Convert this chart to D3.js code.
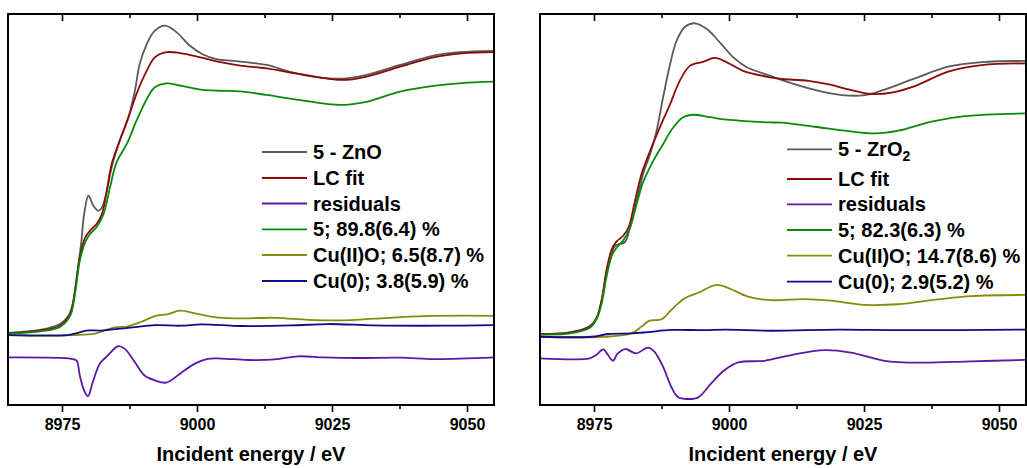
<!DOCTYPE html>
<html>
<head>
<meta charset="utf-8">
<script src="https://cdn.jsdelivr.net/npm/d3@7"></script>
<style>
  html, body { margin: 0; padding: 0; background: #fff; }
  svg { display: block; }
  text { font-family: "Liberation Sans", Arial, sans-serif; font-weight: bold; fill: #000; }
</style>
</head>
<body>
<svg id="chart" width="1027" height="468"></svg>
<script>
// Cu K-edge XANES linear-combination fits, energies in eV, normalised absorption.
const energyTicks = [8975, 9000, 9025, 9050];
const energyMinorTicks = [8987.5, 9012.5, 9037.5];
const energyDomain = [8965, 9055];
const axisTitle = "Incident energy / eV";

// ---- 5 - ZnO ----
const znoMeasured = [[8965,.008],[8970.9,.018],[8974.6,.039],[8976.2,.068],[8977.1,.121],[8977.8,.215],[8978.6,.333],[8979.1,.428],[8979.9,.492],[8980.8,.457],[8981.7,.439],[8982.4,.451],[8983.3,.510],[8984.2,.593],[8985.7,.687],[8987.3,.769],[8988.5,.863],[8989.4,.958],[8990.7,1.028],[8992.2,1.075],[8994.1,1.093],[8996.2,1.070],[8998.7,1.022],[9001.2,.990],[9003.6,.975],[9008,.966],[9012.9,.954],[9017.2,.930],[9022.2,.911],[9027.1,.906],[9031.4,.919],[9037.6,.954],[9043.8,.987],[9048.7,.999],[9055,1.004]];
const znoFit = [[8965,.007],[8970.9,.016],[8974.6,.033],[8976.5,.074],[8977.4,.157],[8978.3,.275],[8979.3,.345],[8980.2,.369],[8981.4,.392],[8982.4,.428],[8983.3,.510],[8984.2,.604],[8985.7,.687],[8987.3,.769],[8988.8,.852],[8990.7,.934],[8992.2,.981],[8994.4,.999],[8996.9,.996],[9000.6,.981],[9004.3,.964],[9008,.952],[9012.9,.942],[9019.1,.922],[9027.1,.901],[9031.4,.913],[9037.6,.948],[9043.8,.981],[9049,.995],[9055,.999]];
const znoResiduals = [[8965,0],[8976.7,-.005],[8977.7,-.011],[8978.3,-.064],[8979.1,-.117],[8979.8,-.137],[8980.7,-.087],[8982,-.022],[8983.5,.007],[8985.4,.040],[8986.6,.031],[8988.5,-.017],[8990.3,-.064],[8992.2,-.081],[8994.3,-.089],[8997.1,-.054],[8999.6,-.022],[9002,-.005],[9004.5,-.004],[9009.4,-.009],[9014.4,-.007],[9018.7,.004],[9023.6,0],[9029.8,-.002],[9037.8,-.001],[9044,-.006],[9055,0]];
const znoPart5 = [[8965,.005],[8970.9,.013],[8974.6,.029],[8976.5,.068],[8977.4,.145],[8978.3,.263],[8979.3,.328],[8980.2,.357],[8981.4,.381],[8982.7,.428],[8983.9,.522],[8985.1,.610],[8987,.675],[8988.8,.757],[8990.7,.834],[8992.2,.875],[8994.4,.889],[8996.9,.881],[9000.6,.867],[9004.3,.863],[9008,.861],[9012.9,.848],[9019.1,.830],[9026.5,.813],[9031.4,.824],[9037.6,.860],[9043.8,.880],[9049,.890],[9055,.895]];
const znoPartCuO = [[8965,0],[8977.3,0],[8981.1,.005],[8983.5,.020],[8984.8,.027],[8987.2,.031],[8989.7,.047],[8992.2,.067],[8994.6,.074],[8996.8,.086],[8999.6,.077],[9003.3,.063],[9007,.059],[9014.4,.061],[9020.6,.054],[9026.7,.052],[9032.9,.058],[9042.2,.067],[9055,.068]];
const znoPartCu = [[8965,0],[8976.1,0],[8978,.008],[8979.5,.016],[8982.3,.016],[8985.4,.022],[8988.5,.028],[8992.2,.035],[8997.1,.033],[9000.8,.038],[9008.2,.032],[9017.5,.034],[9024.3,.039],[9032.9,.034],[9045.2,.033],[9055,.035]];
const znoLabels = ["5 - ZnO", "LC fit", "residuals", "5; 89.8(6.4) %", "Cu(II)O; 6.5(8.7) %", "Cu(0); 3.8(5.9) %"];

// ---- 5 - ZrO2 ----
const zroMeasured = [[8965,.010],[8970.6,.016],[8974.3,.040],[8975.5,.071],[8976.4,.132],[8977.3,.230],[8978.3,.303],[8978.9,.333],[8979.8,.340],[8980.7,.346],[8981.7,.401],[8982.9,.498],[8984.1,.596],[8985.4,.669],[8986.6,.755],[8987.8,.877],[8989.1,.999],[8990.3,1.084],[8991.9,1.136],[8993.7,1.148],[8995.9,1.127],[8998.3,1.078],[9000.8,1.023],[9003.3,.987],[9007.6,.956],[9009.8,.940],[9015.9,.904],[9020.9,.885],[9025.2,.885],[9028.2,.901],[9034.4,.946],[9040.6,.989],[9046.8,1.006],[9055,1.010]];
const zroFit = [[8965,.010],[8970.6,.016],[8974.3,.037],[8975.5,.068],[8976.4,.132],[8977.3,.242],[8978.3,.321],[8979.2,.349],[8980.4,.370],[8981.4,.401],[8982.6,.498],[8983.8,.596],[8985.4,.681],[8987.2,.767],[8989.1,.852],[8990.9,.938],[8992.8,.993],[8995.2,1.007],[8997.4,1.021],[8999.6,1.005],[9002.6,.974],[9007.6,.950],[9009.8,.944],[9014.7,.937],[9019,.922],[9022.1,.906],[9026.4,.889],[9030.1,.894],[9034.4,.918],[9040.6,.971],[9046.8,.995],[9055,1.001]];
const zroResiduals = [[8965,0],[8974.2,0],[8975.4,.012],[8976.7,.033],[8977.6,.012],[8978.5,-.009],[8979.4,.018],[8980.8,.034],[8982.8,.018],[8985,.039],[8986.2,.024],[8987.8,-.031],[8989.3,-.104],[8990.6,-.143],[8992.4,-.149],[8994.3,-.143],[8996.7,-.092],[8999.2,-.043],[9001.7,-.015],[9006.6,-.009],[9011.5,.012],[9017.7,.030],[9022.6,.021],[9028.8,-.009],[9035.6,-.016],[9044.9,-.011],[9055,-.006]];
const zroPart5 = [[8965,.008],[8970.6,.012],[8974.3,.034],[8975.5,.065],[8976.4,.120],[8977.3,.218],[8978.3,.297],[8979.2,.327],[8980.4,.352],[8981.7,.401],[8982.9,.486],[8984.1,.566],[8986,.645],[8987.8,.706],[8989.7,.767],[8991.5,.804],[8993.4,.813],[8996.5,.804],[9000.2,.794],[9007.6,.785],[9009.8,.784],[9015.9,.769],[9022.1,.753],[9027,.745],[9031.4,.755],[9037.5,.788],[9043.7,.808],[9055,.818]];
const zroPartCuO = [[8965,0],[8977,0],[8981.9,.012],[8983.8,.037],[8985.3,.059],[8987.5,.064],[8989.3,.098],[8991.8,.141],[8994.3,.161],[8997.7,.190],[9000.4,.174],[9003.5,.147],[9007.8,.134],[9014,.138],[9018.9,.132],[9025.1,.117],[9031.3,.119],[9038.7,.137],[9044.9,.149],[9055,.153]];
const zroPartCu = [[8965,0],[8974.5,0],[8977.6,.010],[8981.9,.012],[8985,.017],[8989.3,.025],[8995.5,.024],[8999.2,.026],[9007.8,.022],[9020.2,.026],[9032.5,.024],[9055,.026]];
const zroLabels = ["5 - ZrO", "LC fit", "residuals", "5; 82.3(6.3) %", "Cu(II)O; 14.7(8.6) %", "Cu(0); 2.9(5.2) %"];

// Series styling shared by both panels (legend order)
const seriesColors = ["#5a5a5a", "#8b0a0a", "#5c17a6", "#0a8a0a", "#8a8a0a", "#0c0c8c"];
const residualOffset = -0.079;

const panels = [
  { left: 8, right: 494, yDomain: [-0.247, 1.134],
    series: [znoMeasured, znoFit, znoResiduals, znoPart5, znoPartCuO, znoPartCu],
    labels: znoLabels, subscript: null,
    legend: { x0: 262, x1: 307, tx: 313, rows: [152, 178, 203.5, 229.3, 255, 281] } },
  { left: 540, right: 1026, yDomain: [-0.250, 1.182],
    series: [zroMeasured, zroFit, zroResiduals, zroPart5, zroPartCuO, zroPartCu],
    labels: zroLabels, subscript: "2",
    legend: { x0: 787, x1: 832, tx: 838, rows: [149.3, 179, 204.3, 230, 255.7, 281.7] } }
];

const plotTop = 14, plotBottom = 405;
const svg = d3.select("#chart");

panels.forEach((p, pi) => {
  const x = d3.scaleLinear().domain(energyDomain).range([p.left, p.right]);
  const y = d3.scaleLinear().domain(p.yDomain).range([plotBottom, plotTop]);

  const clipId = "clip" + pi;
  svg.append("clipPath").attr("id", clipId)
    .append("rect").attr("x", p.left).attr("y", plotTop)
    .attr("width", p.right - p.left).attr("height", plotBottom - plotTop);

  const line = d3.line()
    .x(d => x(d[0]))
    .y(d => y(d[1]))
    .curve(d3.curveCatmullRom.alpha(0.5));

  const g = svg.append("g").attr("clip-path", `url(#${clipId})`);
  p.series.forEach((s, i) => {
    const pts = i === 2 ? s.map(d => [d[0], d[1] + residualOffset]) : s;
    g.append("path")
      .attr("d", line(pts))
      .attr("fill", "none")
      .attr("stroke", seriesColors[i])
      .attr("stroke-width", 1.8)
      .attr("stroke-linejoin", "round");
  });

  // Bottom axis with outward ticks
  const axB = svg.append("g").attr("transform", `translate(0,${plotBottom})`);
  axB.call(d3.axisBottom(x).tickValues(energyTicks).tickSize(7).tickPadding(7).tickFormat(d3.format("d")));
  axB.append("g").call(d3.axisBottom(x).tickValues(energyMinorTicks).tickSize(4).tickFormat(""));
  // Top axis with inward ticks
  const axT = svg.append("g").attr("transform", `translate(0,${plotTop})`);
  axT.call(d3.axisBottom(x).tickValues(energyTicks).tickSize(7).tickFormat(""));
  axT.append("g").call(d3.axisBottom(x).tickValues(energyMinorTicks).tickSize(4).tickFormat(""));

  svg.selectAll(".domain").remove();
  svg.selectAll(".tick line").attr("stroke", "#000").attr("stroke-width", 1.6);
  axB.selectAll(".tick text").attr("font-size", "16px").attr("fill", "#000")
    .attr("font-family", "Liberation Sans, Arial, sans-serif").attr("font-weight", "bold");

  // Frame
  svg.append("rect")
    .attr("x", p.left).attr("y", plotTop)
    .attr("width", p.right - p.left).attr("height", plotBottom - plotTop)
    .attr("fill", "none").attr("stroke", "#000").attr("stroke-width", 2);

  // Axis title
  svg.append("text")
    .attr("x", (p.left + p.right) / 2).attr("y", 461)
    .attr("text-anchor", "middle").attr("font-size", "20px")
    .text(axisTitle);

  // Legend
  const lg = svg.append("g");
  p.labels.forEach((lab, i) => {
    const yy = p.legend.rows[i];
    lg.append("line")
      .attr("x1", p.legend.x0).attr("x2", p.legend.x1)
      .attr("y1", yy).attr("y2", yy)
      .attr("stroke", seriesColors[i]).attr("stroke-width", 1.8);
    const t = lg.append("text")
      .attr("x", p.legend.tx).attr("y", yy + 7)
      .attr("font-size", "20px");
    t.append("tspan").text(lab);
    if (i === 0 && p.subscript) {
      t.append("tspan").attr("dy", 5).attr("font-size", "14px").text(p.subscript);
    }
  });
});
</script>
</body>
</html>
